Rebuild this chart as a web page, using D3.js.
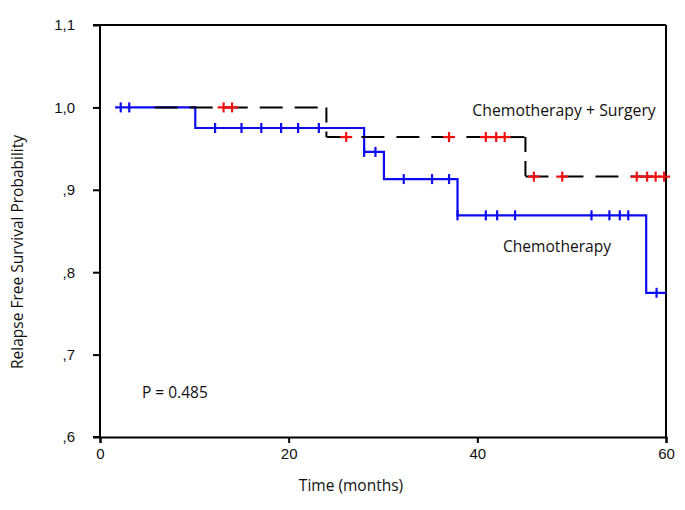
<!DOCTYPE html>
<html><head><meta charset="utf-8">
<script src="https://cdn.jsdelivr.net/npm/d3@7"></script>
<style>body{margin:0;background:#fff}svg{display:block}</style>
</head><body>
<svg id="c" width="685" height="510"></svg>
<script>
// Data
const xTicks = [0, 20, 40, 60];
const yTicks = [0.6, 0.7, 0.8, 0.9, 1.0, 1.1];
const yTickLabels = [",6", ",7", ",8", ",9", "1,0", "1,1"];

// Chemotherapy (blue): step start times and survival
const chemoTimes = [1.6, 10.1, 28.0, 30.1, 37.9, 57.9];
const chemoSurv  = [1.0, 0.975, 0.946, 0.913, 0.869, 0.775];
const chemoEnd = 60;
const chemoCensor = [2.2, 3.1, 12.2, 15.0, 17.1, 19.2, 21.0, 23.2, 28.0, 29.2,
  32.2, 35.2, 37.0, 37.9, 40.9, 42.1, 44.0, 52.1, 54.0, 55.1, 56.0, 59.0];

// Chemotherapy + Surgery (black dashed, red censors)
const comboTimes = [5.8, 24.0, 45.1];
const comboSurv  = [1.0, 0.964, 0.916];
const comboEnd = 60;
const comboCensor = [13.1, 14.0, 26.1, 37.0, 40.9, 42.0, 42.9, 46.0, 49.0, 56.9, 58.0, 58.9, 59.8];

const svg = d3.select("#c");
const x = d3.scaleLinear().domain([0, 60]).range([100, 666]);
const y = d3.scaleLinear().domain([0.6, 1.1]).range([437, 25]);

function survAt(times, surv, t) {
  let s = surv[0];
  for (let i = 0; i < times.length; i++) if (t >= times[i] - 1e-9) s = surv[i];
  return s;
}

// Frame (top and right)
svg.append("line").attr("x1", x(0)).attr("x2", x(60)).attr("y1", y(1.1)).attr("y2", y(1.1))
  .attr("stroke", "#000").attr("stroke-width", 2);
svg.append("line").attr("x1", x(60)).attr("x2", x(60)).attr("y1", y(1.1)).attr("y2", y(0.6))
  .attr("stroke", "#000").attr("stroke-width", 2);

// Axes
const yAxis = d3.axisLeft(y).tickValues(yTicks).tickSize(7).tickPadding(18)
  .tickFormat((d, i) => yTickLabels[i]);
const gy = svg.append("g").attr("transform", `translate(${x(0)},0)`).call(yAxis);
const xAxis = d3.axisBottom(x).tickValues(xTicks).tickSize(6).tickPadding(5).tickFormat(d3.format("d"));
const gx = svg.append("g").attr("transform", `translate(0,${y(0.6)})`).call(xAxis);
[gx, gy].forEach(g => {
  g.select(".domain").attr("stroke", "#000").attr("stroke-width", 2);
  g.selectAll(".tick line").attr("stroke", "#000").attr("stroke-width", 2);
  g.selectAll("text").attr("font-family", "'Liberation Sans', Arial, sans-serif")
    .attr("font-size", 15).attr("fill", "#111");
});
gy.select(".domain").attr("d", `M-7,${y(1.1)}H0V${y(0.6)}H-7`);

// Blue curve
const blueColor = "#0c0cf2";
const chemoPts = chemoTimes.map((t, i) => [t, chemoSurv[i]]).concat([[chemoEnd, chemoSurv[chemoSurv.length - 1]]]);
const stepLine = d3.line().x(d => x(d[0])).y(d => y(d[1])).curve(d3.curveStepAfter);
svg.append("path").attr("d", stepLine(chemoPts)).attr("fill", "none")
  .attr("stroke", blueColor).attr("stroke-width", 2.2);
svg.append("g").selectAll("line").data(chemoCensor).join("line")
  .attr("x1", d => x(d)).attr("x2", d => x(d))
  .attr("y1", d => y(survAt(chemoTimes, chemoSurv, d)) - 5)
  .attr("y2", d => y(survAt(chemoTimes, chemoSurv, d)) + 5)
  .attr("stroke", blueColor).attr("stroke-width", 2.2);

// Black dashed curve, drawn segment by segment
const segLine = d3.line().x(d => x(d[0])).y(d => y(d[1]));
const gk = svg.append("g");
for (let i = 0; i < comboTimes.length; i++) {
  const t0 = comboTimes[i];
  const t1 = i + 1 < comboTimes.length ? comboTimes[i + 1] : comboEnd;
  gk.append("path").attr("d", segLine([[t0, comboSurv[i]], [t1, comboSurv[i]]]))
    .attr("fill", "none").attr("stroke", "#000").attr("stroke-width", 2)
    .attr("stroke-dasharray", "23,12");
  if (i + 1 < comboTimes.length) {
    gk.append("path").attr("d", segLine([[t1, comboSurv[i]], [t1, comboSurv[i + 1]]]))
      .attr("fill", "none").attr("stroke", "#000").attr("stroke-width", 2)
      .attr("stroke-dasharray", "15,9");
  }
}
const gr = svg.append("g");
comboCensor.forEach(t => {
  const cy = y(survAt(comboTimes, comboSurv, t));
  gr.append("line").attr("x1", x(t) - 6).attr("x2", x(t) + 6).attr("y1", cy).attr("y2", cy)
    .attr("stroke", "#f01010").attr("stroke-width", 2.2);
  gr.append("line").attr("x1", x(t)).attr("x2", x(t)).attr("y1", cy - 5).attr("y2", cy + 5)
    .attr("stroke", "#f01010").attr("stroke-width", 2.2);
});

// Texts
const font = "'Open Sans', 'Noto Sans', sans-serif";
svg.append("text").attr("x", 564).attr("y", 116).attr("text-anchor", "middle")
  .attr("font-family", font).attr("font-size", 15.8).attr("fill", "#111").text("Chemotherapy + Surgery");
svg.append("text").attr("x", 557).attr("y", 252).attr("text-anchor", "middle")
  .attr("font-family", font).attr("font-size", 15.6).attr("fill", "#111").text("Chemotherapy");
svg.append("text").attr("x", 142).attr("y", 398)
  .attr("font-family", font).attr("font-size", 15.5).attr("fill", "#111").text("P = 0.485");
svg.append("text").attr("x", 351).attr("y", 491).attr("text-anchor", "middle")
  .attr("font-family", font).attr("font-size", 15.5).attr("fill", "#111").text("Time (months)");
svg.append("text").attr("transform", "translate(23,252) rotate(-90)").attr("text-anchor", "middle")
  .attr("font-family", font).attr("font-size", 15.5).attr("fill", "#111").text("Relapse Free Survival Probability");
</script>
</body></html>
